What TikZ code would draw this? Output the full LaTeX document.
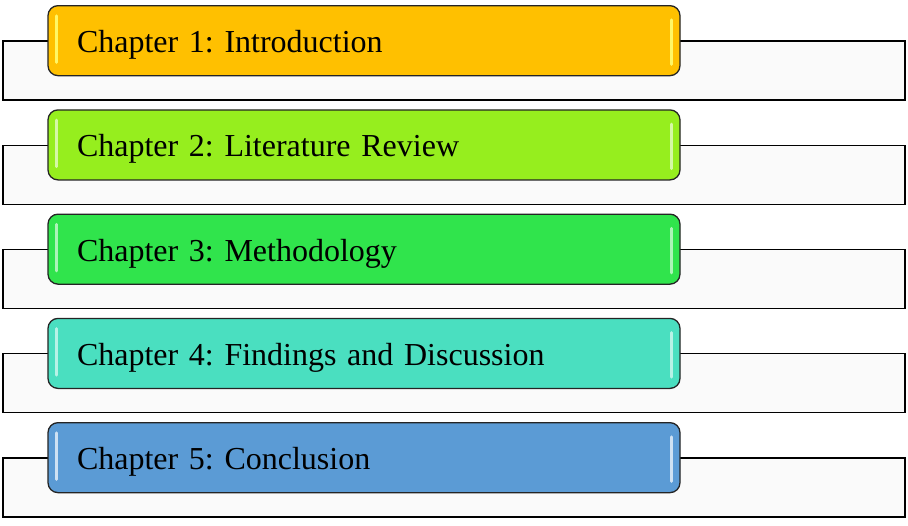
\documentclass[tikz,border=0pt]{standalone}
\usepackage{xcolor}
\usepackage{fontspec}
\setmainfont{Liberation Serif}
\usepackage{tikz}
\usetikzlibrary{positioning}

\definecolor{ch1}{HTML}{FFC000}
\definecolor{ch2}{HTML}{96EE1E}
\definecolor{ch3}{HTML}{30E44C}
\definecolor{ch4}{HTML}{4ADFC0}
\definecolor{ch5}{HTML}{5B9BD5}
\definecolor{barfill}{HTML}{FAFAFA}

\begin{document}
\frenchspacing
\begin{tikzpicture}[x=1pt,y=-1pt,node distance=104.25pt]
  \tikzstyle{bar}=[draw=black,line width=1.4pt,fill=barfill,minimum width=902pt,minimum height=59pt,inner sep=0pt]
  \tikzstyle{chapter}=[draw={rgb:black,6;white,1},line width=1.3pt,rounded corners=10pt,
    minimum width=632pt,minimum height=70pt,text width=574pt,inner xsep=29pt,inner ysep=0pt,
    text height=24pt,text depth=0pt,align=left,font=\fontsize{32}{38}\selectfont,anchor=south]
  \tikzstyle{glint}=[line width=3.2pt,line cap=round]
  \useasboundingbox (0,0) rectangle (908,525);

  \node[bar] (b_1) at (454,70.5) {};
  \node[bar] (b_2) [below of=b_1] {};
  \node[bar] (b_3) [below of=b_2] {};
  \node[bar] (b_4) [below of=b_3] {};
  \node[bar] (b_5) [below of=b_4] {};

  \node[chapter,fill=ch1] (c_1) at ([xshift=-90pt,yshift=-36pt]b_1.north) {Chapter 1: Introduction};
  \node[chapter,fill=ch2] (c_2) at ([xshift=-90pt,yshift=-36pt]b_2.north) {Chapter 2: Literature Review};
  \node[chapter,fill=ch3] (c_3) at ([xshift=-90pt,yshift=-36pt]b_3.north) {Chapter 3: Methodology};
  \node[chapter,fill=ch4] (c_4) at ([xshift=-90pt,yshift=-36pt]b_4.north) {Chapter 4: Findings and Discussion};
  \node[chapter,fill=ch5] (c_5) at ([xshift=-90pt,yshift=-36pt]b_5.north) {Chapter 5: Conclusion};

  % highlights
  \draw[glint,yellow!60!white] ([xshift=9pt,yshift=-11pt]c_1.north west) -- ([xshift=9pt,yshift=14pt]c_1.south west);
  \draw[glint,yellow!60!white] ([xshift=-9pt,yshift=-15pt]c_1.north east) -- ([xshift=-9pt,yshift=12pt]c_1.south east);
  \draw[glint,ch2!40!white] ([xshift=9pt,yshift=-11pt]c_2.north west) -- ([xshift=9pt,yshift=14pt]c_2.south west);
  \draw[glint,ch2!40!white] ([xshift=-9pt,yshift=-15pt]c_2.north east) -- ([xshift=-9pt,yshift=12pt]c_2.south east);
  \draw[glint,ch3!40!white] ([xshift=9pt,yshift=-11pt]c_3.north west) -- ([xshift=9pt,yshift=14pt]c_3.south west);
  \draw[glint,ch3!40!white] ([xshift=-9pt,yshift=-15pt]c_3.north east) -- ([xshift=-9pt,yshift=12pt]c_3.south east);
  \draw[glint,ch4!40!white] ([xshift=9pt,yshift=-11pt]c_4.north west) -- ([xshift=9pt,yshift=14pt]c_4.south west);
  \draw[glint,ch4!40!white] ([xshift=-9pt,yshift=-15pt]c_4.north east) -- ([xshift=-9pt,yshift=12pt]c_4.south east);
  \draw[glint,ch5!30!white] ([xshift=9pt,yshift=-11pt]c_5.north west) -- ([xshift=9pt,yshift=14pt]c_5.south west);
  \draw[glint,ch5!30!white] ([xshift=-9pt,yshift=-15pt]c_5.north east) -- ([xshift=-9pt,yshift=12pt]c_5.south east);
\end{tikzpicture}
\end{document}
